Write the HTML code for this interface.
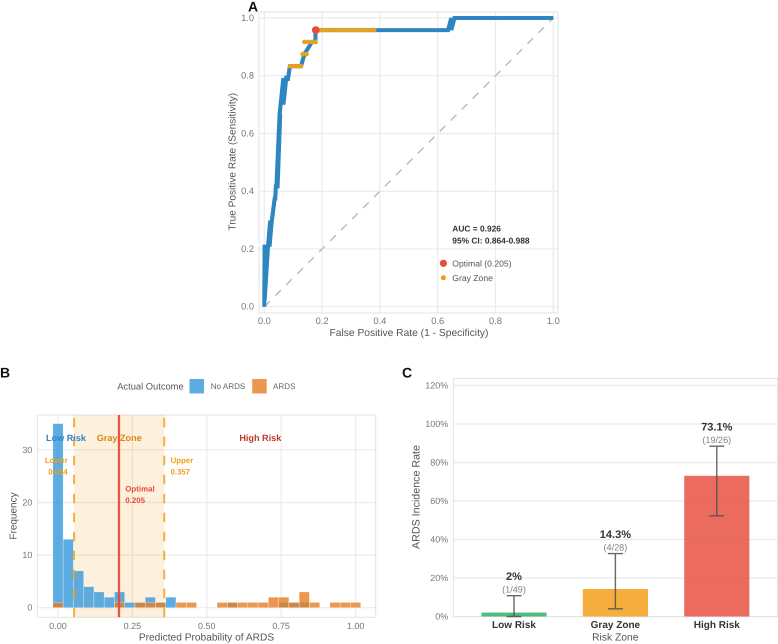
<!DOCTYPE html>
<html lang="en">
<head>
<meta charset="utf-8">
<title>ARDS risk model figure</title>
<style>
html,body{margin:0;padding:0;background:#fff;width:778px;height:644px;overflow:hidden}
svg{display:block;font-family:"Liberation Sans",sans-serif;text-rendering:geometricPrecision;filter:blur(0.3px)}
</style>
</head>
<body>
<svg id="fig" width="778" height="644" viewBox="0 0 778 644" xmlns="http://www.w3.org/2000/svg">
<rect width="778" height="644" fill="#fff"/>
<g id="panelA"></g>
<g id="panelB"></g>
<g id="panelC"></g>
</svg>
<script>
// ---- Panel A data: ROC curve
const rocFpr = [0,0.001,0.008,0.001,0.0127,0.02,0.0253,0.018,0.0253,0.036,0.038,0.04,0.046,0.055,0.042,0.053,0.066,0.066,0.076,0.082,0.0886,0.101,0.127,0.139,0.139,0.165,0.177,0.177,0.387,0.636,0.647,0.647,0.658,1];
const rocTpr = [0,0.208,0.208,0.02,0.208,0.292,0.292,0.208,0.292,0.375,0.375,0.417,0.417,0.667,0.417,0.667,0.792,0.70,0.792,0.79,0.833,0.833,0.833,0.875,0.875,0.917,0.917,0.958,0.958,0.958,1,0.958,1,1];
const grayFpr = [0.0886,0.101,0.114,0.127,0.133,0.146,0.139,0.152,0.165,0.177,0.177,0.190,0.203,0.215,0.228,0.241,0.253,0.266,0.278,0.291,0.304,0.316,0.329,0.342,0.354,0.367,0.380];
const grayTpr = [0.833,0.833,0.833,0.833,0.875,0.875,0.917,0.917,0.917,0.917,0.958,0.958,0.958,0.958,0.958,0.958,0.958,0.958,0.958,0.958,0.958,0.958,0.958,0.958,0.958,0.958,0.958];
const optimalPoint = [0.178,0.958];
const rocTicks = [0,0.2,0.4,0.6,0.8,1];
const rocTickLabels = ["0.0","0.2","0.4","0.6","0.8","1.0"];

// ---- Panel B data: histogram
const binCenters = [0,0.0345,0.069,0.1034,0.1379,0.1724,0.2069,0.2414,0.2759,0.3103,0.3448,0.3793,0.4138,0.4483,0.4828,0.5172,0.5517,0.5862,0.6207,0.6552,0.6897,0.7241,0.7586,0.7931,0.8276,0.8621,0.8966,0.931,0.9655,1];
const noArdsCounts = [35,13,7,4,3,2,3,1,1,2,1,2,0,0,0,0,0,1,0,0,0,0,1,1,1,0,0,0,0,0];
const ardsCounts   = [1,0,0,0,0,0,1,0,1,1,1,0,1,1,0,0,1,1,1,1,1,2,2,1,3,1,0,1,1,1];
const binWidth = 0.0345;
const thresholdValues = [0.054,0.205,0.357];
const histXTicks = [0,0.25,0.5,0.75,1];
const histXTickLabels = ["0.00","0.25","0.50","0.75","1.00"];
const histYTicks = [0,10,20,30];
const histYTickLabels = ["0","10","20","30"];

// ---- Panel C data: incidence bars
const zoneNames = ["Low Risk","Gray Zone","High Risk"];
const zoneRates = [2.04,14.3,73.1];
const zoneLower = [0,4,52.3];
const zoneUpper = [10.8,32.7,88.5];
const zoneRateLabels = ["2%","14.3%","73.1%"];
const zoneCountLabels = ["(1/49)","(4/28)","(19/26)"];
const incidenceTicks = [0,20,40,60,80,100,120];
const incidenceTickLabels = ["0%","20%","40%","60%","80%","100%","120%"];

const NS = "http://www.w3.org/2000/svg";
function mk(tag, attrs, parent){
  const el = document.createElementNS(NS, tag);
  for (const k in attrs) el.setAttribute(k, attrs[k]);
  parent.appendChild(el);
  return el;
}
function txt(str, x, y, size, fill, anchor, weight, parent){
  const el = mk("text",{x:x,y:y,"font-size":size,fill:fill,"text-anchor":anchor||"middle","font-weight":weight||"normal","dominant-baseline":"central"},parent);
  el.textContent = str;
  return el;
}
const GRID = "#ebebeb", BORDER = "#e3e3e3", TICK = "#777", TITLE = "#555";

// ================= Panel A =================
(function(){
  const g = document.getElementById("panelA");
  const X = v => 264.3 + 289 * v;
  const Y = v => 306.7 - 288.7 * v;
  rocTicks.forEach((t,i)=>{
    let l = mk("line",{x1:X(t),x2:X(t),y1:12,y2:313,stroke:GRID,"stroke-width":1.2},g);
    
    
    l = mk("line",{x1:259,x2:558,y1:Y(t),y2:Y(t),stroke:GRID,"stroke-width":1.2},g);
    
    
    let a = txt(rocTickLabels[i],X(t),320.8,9.3,TICK,"middle","normal",g);
    
    
    a = txt(rocTickLabels[i],254,Y(t),9.3,TICK,"end","normal",g);
    
    
  });
  const frame = mk("rect",{x:259,y:12,width:299,height:301,fill:"none",stroke:BORDER,"stroke-width":1},g);
  
  
  const diag = mk("line",{x1:X(0),y1:Y(0),x2:X(1),y2:Y(1),stroke:"#bdbdbd","stroke-width":1.5,"stroke-dasharray":"8 7.5"},g);
  
  
  const d = rocFpr.map((f,i)=>(i?"L":"M")+X(f).toFixed(2)+" "+Y(rocTpr[i]).toFixed(2)).join(" ");
  const roc = mk("path",{d:d,fill:"none",stroke:"#2e86c1","stroke-width":4.1,"stroke-linejoin":"miter","stroke-miterlimit":2},g);
  
  
  grayFpr.forEach((f,i)=>{
    const c = mk("circle",{cx:X(f),cy:Y(grayTpr[i]),r:2.35,fill:"#e8a31e"},g);
    
    
  });
  const opt = mk("circle",{cx:X(optimalPoint[0]),cy:Y(optimalPoint[1]),r:3.9,fill:"#e74c3c"},g);
  
  

  let t = txt("False Positive Rate (1 - Specificity)",409,333.4,10.25,TITLE,"middle","normal",g);
  
  
  t = txt("True Positive Rate (Sensitivity)",0,0,10.1,TITLE,"middle","normal",g);
  t.setAttribute("transform","translate(233,161.7) rotate(-90)");
  
  
  t = txt("AUC = 0.926",452.3,228.7,8.4,"#333","start","bold",g);
  
  
  t = txt("95% CI: 0.864-0.988",452.3,240.7,8.4,"#333","start","bold",g);
  
  
  let c = mk("circle",{cx:443.4,cy:263.3,r:3.6,fill:"#e74c3c"},g);
  
  
  t = txt("Optimal (0.205)",452.3,263.5,8.6,"#555","start","normal",g);
  
  
  c = mk("circle",{cx:443.4,cy:277.7,r:2.5,fill:"#f39c12"},g);
  
  
  t = txt("Gray Zone",452.3,277.9,8.6,"#555","start","normal",g);
  
  
  t = txt("A",248,6.5,14,"#111","start","bold",g);
  
  
})();

// ================= Panel B =================
(function(){
  const g = document.getElementById("panelB");
  const X = v => 58 + 297.6 * v;
  const Y = v => 607.7 - 5.26 * v;
  const top = 415, bottom = 617.3, left = 37.3, right = 375.7;
  histXTicks.forEach((t,i)=>{
    const l = mk("line",{x1:X(t),x2:X(t),y1:top,y2:bottom,stroke:GRID,"stroke-width":1.2},g);
    
    
    const a = txt(histXTickLabels[i],X(t),625.8,9,TICK,"middle","normal",g);
    
    
  });
  histYTicks.forEach((t,i)=>{
    const l = mk("line",{x1:left,x2:right,y1:Y(t),y2:Y(t),stroke:GRID,"stroke-width":1.2},g);
    
    
    const a = txt(histYTickLabels[i],32.4,Y(t),9,TICK,"end","normal",g);
    
    
  });
  const frame = mk("rect",{x:left,y:top,width:right-left,height:bottom-top,fill:"none",stroke:BORDER,"stroke-width":1},g);
  
  
  const zone = mk("rect",{x:X(thresholdValues[0]),y:top,width:X(thresholdValues[2])-X(thresholdValues[0]),height:bottom-top,fill:"#f39c12","fill-opacity":0.15},g);
  
  
  binCenters.forEach((c,i)=>{
    if(noArdsCounts[i]>0){
      const r = mk("rect",{x:X(c-binWidth/2),y:Y(noArdsCounts[i]),width:X(binWidth)-X(0),height:Y(0)-Y(noArdsCounts[i]),fill:"#3498db","fill-opacity":0.8,stroke:"#fff","stroke-opacity":0.6,"stroke-width":0.5},g);
      
      
    }
  });
  binCenters.forEach((c,i)=>{
    if(ardsCounts[i]>0){
      const r = mk("rect",{x:X(c-binWidth/2),y:Y(ardsCounts[i]),width:X(binWidth)-X(0),height:Y(0)-Y(ardsCounts[i]),fill:"#e67e22","fill-opacity":0.8,stroke:"#fff","stroke-opacity":0.6,"stroke-width":0.5},g);
      
      
    }
  });
  [thresholdValues[0],thresholdValues[2]].forEach(v=>{
    const l = mk("line",{x1:X(v),x2:X(v),y1:bottom,y2:top,stroke:"#f39c12","stroke-opacity":0.8,"stroke-width":2,"stroke-dasharray":"9.6 9.4"},g);
    
    
  });
  const opt = mk("line",{x1:X(thresholdValues[1]),x2:X(thresholdValues[1]),y1:top,y2:bottom,stroke:"#e74c3c","stroke-opacity":0.95,"stroke-width":2.3},g);
  
  

  let t = txt("Low Risk",66,437.8,9.1,"#2e86c1","middle","bold",g);
  
  
  t = txt("Gray Zone",119.2,437.8,9.1,"#d68910","middle","bold",g);
  
  
  t = txt("High Risk",260.3,437.8,9.1,"#c0392b","middle","bold",g);
  
  
  t = txt("Lower",56.3,460.3,7.8,"#f39c12","middle","bold",g);
  
  
  t = txt("0.054",58,471.8,7.8,"#f39c12","middle","bold",g);
  
  
  t = txt("Upper",170.6,460.3,7.8,"#f39c12","start","bold",g);
  
  
  t = txt("0.357",170.6,471.8,7.8,"#f39c12","start","bold",g);
  
  
  t = txt("Optimal",125.3,489,7.9,"#e74c3c","start","bold",g);
  
  
  t = txt("0.205",125.3,500.3,7.9,"#e74c3c","start","bold",g);
  
  

  t = txt("Actual Outcome",117.2,386.6,9.35,"#555","start","normal",g);
  
  
  let s = mk("rect",{x:189.5,y:379,width:14.5,height:14.5,fill:"#5dade2"},g);
  
  
  t = txt("No ARDS",210.7,386.6,8.1,"#666","start","normal",g);
  
  
  s = mk("rect",{x:252.2,y:379,width:14.5,height:14.5,fill:"#eb984e"},g);
  
  
  t = txt("ARDS",273,386.6,8.1,"#666","start","normal",g);
  
  

  t = txt("Predicted Probability of ARDS",206.5,637.8,10.2,TITLE,"middle","normal",g);
  
  
  t = txt("Frequency",0,0,10,TITLE,"middle","normal",g);
  t.setAttribute("transform","translate(14,516) rotate(-90)");
  
  
  t = txt("B",0,372.5,14,"#111","start","bold",g);
  
  
})();

// ================= Panel C =================
(function(){
  const g = document.getElementById("panelC");
  const Y = v => 616.5 - 1.925 * v;
  const X = i => 514 + 101.4 * i;
  const left = 453.3, right = 777.5, top = 378.3, bottom = 616.7;
  const fills = ["#27ae60","#f39c12","#e74c3c"];
  incidenceTicks.forEach((t,i)=>{
    const l = mk("line",{x1:left,x2:right,y1:Y(t),y2:Y(t),stroke:GRID,"stroke-width":1.2},g);
    
    
    const a = txt(incidenceTickLabels[i],448.3,Y(t),9,TICK,"end","normal",g);
    
    
  });
  const frame = mk("rect",{x:left,y:top,width:right-left,height:bottom-top,fill:"none",stroke:BORDER,"stroke-width":1},g);
  
  
  zoneNames.forEach((name,i)=>{
    const cx = X(i);
    const b = mk("rect",{x:cx-32.6,y:Y(zoneRates[i]),width:65.2,height:Y(0)-Y(zoneRates[i]),fill:fills[i],"fill-opacity":0.82},g);
    
    
    const e = mk("path",{d:"M"+(cx-7.5)+" "+Y(zoneUpper[i])+"H"+(cx+7.5)+"M"+cx+" "+Y(zoneUpper[i])+"V"+Y(zoneLower[i])+"M"+(cx-7.5)+" "+Y(zoneLower[i])+"H"+(cx+7.5),fill:"none",stroke:"#4d4d4d","stroke-opacity":0.85,"stroke-width":1.4},g);
    
    
    let t = txt(zoneCountLabels[i],cx,Y(zoneUpper[i])-6.2,9.1,"#808080","middle","normal",g);
    
    
    t = txt(zoneRateLabels[i],cx,Y(zoneUpper[i])-18.6,11,"#333","middle","bold",g);
    
    
    t = txt(name,cx,625.4,10,"#333","middle","bold",g);
    
    
  });
  let t = txt("Risk Zone",615.3,637.8,10.3,TITLE,"middle","normal",g);
  
  
  t = txt("ARDS Incidence Rate",0,0,10.7,TITLE,"middle","normal",g);
  t.setAttribute("transform","translate(416.7,497) rotate(-90)");
  
  
  t = txt("C",402,372.5,14,"#111","start","bold",g);
  
  
})();
</script>
</body>
</html>
